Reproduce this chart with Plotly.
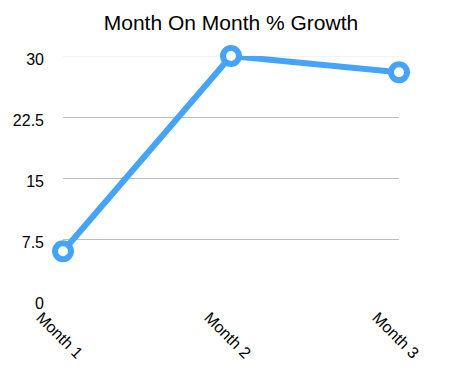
import plotly.graph_objects as go

categories = ["Month 1", "Month 2", "Month 3"]
growth = [6.0, 30.0, 28.0]
y_ticks = [0, 7.5, 15, 22.5, 30]
y_tick_labels = ["0", "7.5", "15", "22.5", "30"]

BLUE = "#45a4f7"

fig = go.Figure()
fig.add_trace(go.Scatter(
    x=categories, y=growth, mode="lines+markers",
    line=dict(color=BLUE, width=6),
    marker=dict(size=16, color="white", line=dict(color=BLUE, width=6)),
    cliponaxis=False, showlegend=False,
))

# lighter top gridline
fig.add_shape(type="line", xref="paper", yref="y", x0=0, x1=1, y0=30, y1=30,
              line=dict(color="#e3e3e3", width=1), layer="below")

mid = [(t, l) for t, l in zip(y_ticks, y_tick_labels) if t not in (0, 30)]
ends = [(t, l) for t, l in zip(y_ticks, y_tick_labels) if t in (0, 30)]

W, H = 454, 376
fig.update_layout(
    width=W, height=H,
    margin=dict(l=55, r=63, t=48, b=84),
    paper_bgcolor="white", plot_bgcolor="white",
    font=dict(family="Liberation Sans, Arial, sans-serif", color="black", size=16),
    title=dict(text="Month On Month % Growth", x=(231 - 8) / W, xanchor="center",
               y=1 - 15 / H, yanchor="middle", font=dict(size=21), automargin=False),
)
fig.update_xaxes(
    range=[0, 2], showgrid=False, zeroline=False, showline=False, automargin=False,
    tickangle=45, ticks="", ticklabelshift=-22, ticklabelstandoff=4,
    tickfont=dict(size=16),
)
fig.update_yaxes(
    range=[0, 30], tickvals=[t for t, _ in mid], ticktext=[l for _, l in mid],
    showgrid=True, gridcolor="#bdbdbd", gridwidth=1, zeroline=False, showline=False,
    ticks="", ticklabelstandoff=18, ticklabelshift=3, automargin=False,
    tickfont=dict(size=16),
)
fig.update_layout(yaxis2=dict(
    overlaying="y", side="left", range=[0, 30],
    tickvals=[t for t, _ in ends], ticktext=[l for _, l in ends],
    showgrid=False, zeroline=False, showline=False, ticks="", ticklabelstandoff=18,
    ticklabelshift=3, automargin=False, tickfont=dict(size=16),
))
fig.add_trace(go.Scatter(x=[categories[0]], y=[0], yaxis="y2", mode="markers",
                         marker=dict(opacity=0), showlegend=False, hoverinfo="skip"))

fig.write_html("out.html")
